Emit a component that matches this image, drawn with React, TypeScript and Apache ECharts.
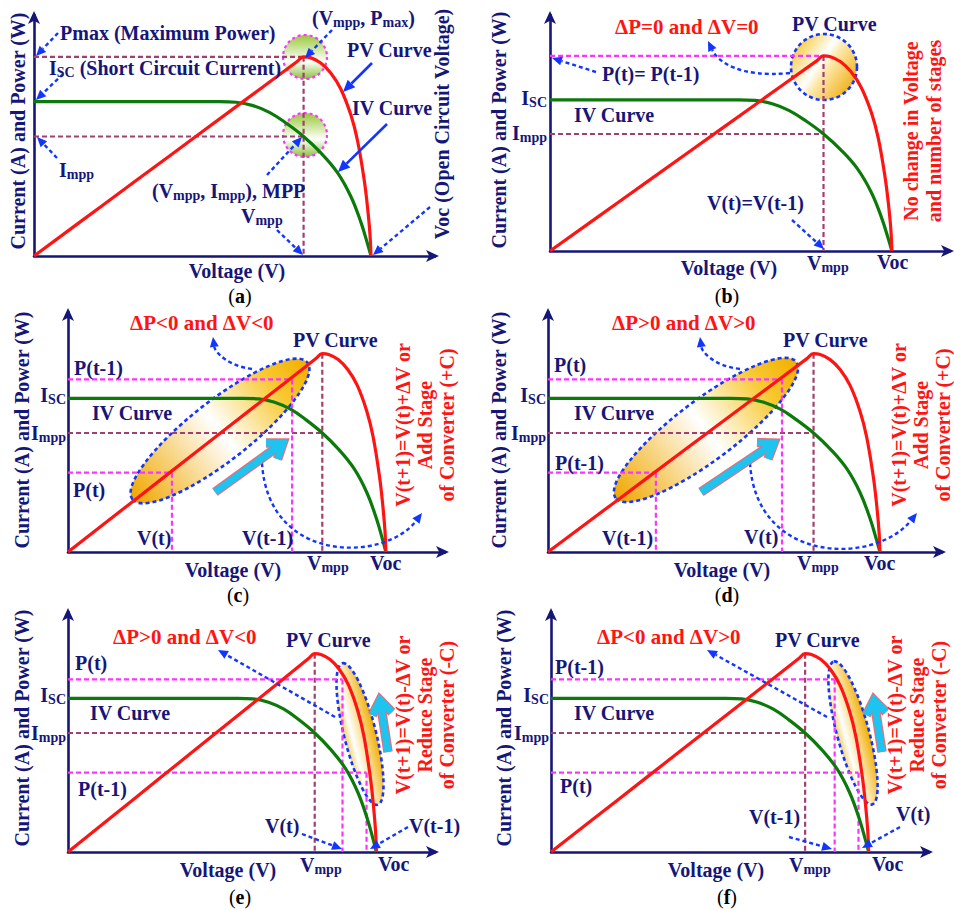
import React, { useEffect, useRef } from "react";
import * as echarts from "echarts";

// ---------------- data (voltage in units of Voc, power / current in % of Pmax) ----------------
const PV_VOLTAGE = [0, 0.2, 0.4, 0.6, 0.78, 0.8, 0.82, 0.85, 0.88, 0.91, 0.94, 0.96, 0.98, 0.99, 0.997, 1];
const PV_POWER = [0, 25, 50, 75, 97.5, 100, 99.6, 97, 92, 84, 71, 58, 38, 24, 11, 0];
const IV_VOLTAGE = [0, 0.3, 0.55, 0.6, 0.65, 0.7, 0.75, 0.8, 0.85, 0.9, 0.94, 0.97, 0.99, 1];
const IV_CURRENT = [77.5, 77.5, 77.5, 77.2, 75.5, 72, 66.5, 60, 52, 42, 30, 17, 6, 0];
const V_MPP = 0.8;
const P_MAX = 100;
const I_MPP = 60;
const PANEL_LABELS = ["a", "b", "c", "d", "e", "f"];
const V_T = [null, null, 0.327, 0.705, 0.89, 0.968];
const P_T = [null, null, 40, 87, 87, 40];
const V_T1 = [null, null, 0.705, 0.325, 0.968, 0.893];
const P_T1 = [null, null, 87, 40, 40, 87];
const X_MAX = [1.19, 1.17, 1.186, 1.187, 1.19, 1.19];
const Y_MAX = 121;

// ---------------- styling ----------------
const FONT = '"Liberation Serif","Times New Roman",serif';
const NAVY = "#161678";
const RED = "#ff1414";
const GREEN = "#0b7a0b";
const BLUE = "#1236ff";
const MAROON = "#a0406e";
const MAGENTA = "#ff33ff";
const PI = Math.PI;

const GRIDS = [
  { left: 34, top: 15, width: 401, height: 241 },
  { left: 550, top: 15, width: 400, height: 236 },
  { left: 68, top: 312, width: 377, height: 240 },
  { left: 548, top: 312, width: 394, height: 240 },
  { left: 68, top: 612, width: 367, height: 240 },
  { left: 551, top: 612, width: 378, height: 240 },
];

function T(x: number, y: number, text: string, o: any = {}) {
  const color = o.color ?? NAVY;
  const size = o.size ?? 20;
  const sub = Math.round(size * 0.7);
  const align = o.align ?? "left";
  return {
    type: "text",
    x,
    y,
    rotation: o.rot ?? 0,
    z: 30,
    silent: true,
    style: {
      text,
      fill: color,
      fontFamily: FONT,
      fontSize: size,
      fontWeight: o.weight ?? "bold",
      align,
      verticalAlign: "middle",
      textAlign: align,
      textVerticalAlign: "middle",
      lineHeight: o.lh ?? Math.round(size * 1.15),
      rich: {
        s: { fontFamily: FONT, fontSize: sub, fontWeight: "bold", fill: color, verticalAlign: "bottom", lineHeight: sub },
        n: { fontFamily: FONT, fontSize: size, fontWeight: "normal", fill: color },
      },
    },
  };
}

function arrow(x1: number, y1: number, x2: number, y2: number, dashed = true, head = 10) {
  const a = Math.atan2(y2 - y1, x2 - x1);
  const hx = x2 - head * Math.cos(a);
  const hy = y2 - head * Math.sin(a);
  const px = Math.sin(a) * head * 0.45;
  const py = -Math.cos(a) * head * 0.45;
  return [
    {
      type: "line",
      z: 25,
      silent: true,
      shape: { x1, y1, x2: hx, y2: hy },
      style: { stroke: BLUE, lineWidth: dashed ? 2.4 : 2.6, lineDash: dashed ? [4, 3] : null },
    },
    {
      type: "polygon",
      z: 25,
      silent: true,
      shape: { points: [[x2, y2], [hx + px, hy + py], [hx - px, hy - py]] },
      style: { fill: BLUE },
    },
  ];
}

function curveArrow(x1: number, y1: number, c1x: number, c1y: number, c2x: number, c2y: number, x2: number, y2: number, head = 10) {
  const a = Math.atan2(y2 - c2y, x2 - c2x);
  const hx = x2 - head * Math.cos(a);
  const hy = y2 - head * Math.sin(a);
  const px = Math.sin(a) * head * 0.45;
  const py = -Math.cos(a) * head * 0.45;
  return [
    {
      type: "bezierCurve",
      z: 25,
      silent: true,
      shape: { x1, y1, cpx1: c1x, cpy1: c1y, cpx2: c2x, cpy2: c2y, x2: hx, y2: hy },
      style: { stroke: BLUE, fill: null, lineWidth: 2.4, lineDash: [4, 3] },
    },
    {
      type: "polygon",
      z: 25,
      silent: true,
      shape: { points: [[x2, y2], [hx + px, hy + py], [hx - px, hy - py]] },
      style: { fill: BLUE },
    },
  ];
}

function fatArrow(x1: number, y1: number, x2: number, y2: number) {
  const a = Math.atan2(y2 - y1, x2 - x1);
  const L = 17;
  const a1 = a + PI - 0.62;
  const a2 = a + PI + 0.62;
  const headPts = [
    [x2 + L * Math.cos(a1), y2 + L * Math.sin(a1)],
    [x2, y2],
    [x2 + L * Math.cos(a2), y2 + L * Math.sin(a2)],
  ];
  const shaftPts = [
    [x1, y1],
    [x2 - 2 * Math.cos(a), y2 - 2 * Math.sin(a)],
  ];
  const mk = (pts: number[][], color: string, w: number, z: number) => ({
    type: "polyline",
    z,
    silent: true,
    shape: { points: pts },
    style: { stroke: color, lineWidth: w, fill: null, lineJoin: "miter", lineCap: "butt" },
  });
  return [
    mk(shaftPts, "#e07080", 9.5, 26),
    mk(headPts, "#e07080", 9.5, 26),
    mk(shaftPts, "#1ec4f0", 7, 27),
    mk(headPts, "#1ec4f0", 7, 27),
  ];
}

function ellipse(cx: number, cy: number, rx: number, ry: number, rotDeg: number, fill: any, stroke = BLUE) {
  return {
    type: "ellipse",
    x: cx,
    y: cy,
    rotation: (rotDeg * PI) / 180,
    z: 1,
    silent: true,
    shape: { cx: 0, cy: 0, rx, ry },
    style: { fill, stroke, lineWidth: 2.6, lineDash: [4, 3] },
  };
}

const goldLong = () =>
  new echarts.graphic.LinearGradient(0, 0, 1, 0, [
    { offset: 0, color: "#f0a800" },
    { offset: 0.5, color: "#ffffff" },
    { offset: 0.82, color: "#f8c830" },
    { offset: 1, color: "#f2b000" },
  ]);
const goldSide = () =>
  new echarts.graphic.LinearGradient(0, 0, 0, 1, [
    { offset: 0, color: "#f0ac00" },
    { offset: 0.45, color: "#fbe09a" },
    { offset: 0.75, color: "#ffffff" },
    { offset: 1, color: "#f8d060" },
  ]);
const goldRound = () =>
  new echarts.graphic.LinearGradient(0, 0.15, 1, 0.85, [
    { offset: 0, color: "#f6c21c" },
    { offset: 0.42, color: "#ffffff" },
    { offset: 0.55, color: "#fde8a8" },
    { offset: 1, color: "#eea600" },
  ]);
const greenRound = () =>
  new echarts.graphic.LinearGradient(0, 0, 0, 1, [
    { offset: 0, color: "#98c83a" },
    { offset: 0.5, color: "#eef7dc" },
    { offset: 0.6, color: "#ffffff" },
    { offset: 1, color: "#8bc23a" },
  ]);

const YTITLE = "Current (A) and Power (W)";
const panelLabel = (x: number, y: number, k: string) =>
  T(x, y, "{n|(}" + k + "{n|)}", { align: "center", color: "#000000" });

function buildGraphics() {
  const g: any[] = [];
  // ---------- (a) ----------
  g.push(
    {
      type: "circle", z: 1, silent: true, shape: { cx: 305, cy: 57, r: 22 },
      style: { fill: greenRound(), stroke: MAGENTA, lineWidth: 2.2, lineDash: [3, 3] },
    },
    {
      type: "circle", z: 1, silent: true, shape: { cx: 305, cy: 135, r: 22 },
      style: { fill: greenRound(), stroke: MAGENTA, lineWidth: 2.2, lineDash: [3, 3] },
    },
    T(18, 131, YTITLE, { rot: PI / 2, align: "center" }),
    T(60, 33, "Pmax (Maximum Power)"),
    T(49, 68, "I{s|SC} (Short Circuit Current)"),
    T(59, 170, "I{s|mpp}"),
    T(312, 18, "(V{s|mpp}, P{s|max})"),
    T(347, 50, "PV Curve"),
    T(352, 108, "IV Curve"),
    T(152, 191, "(V{s|mpp}, I{s|mpp}), MPP"),
    T(241, 216, "V{s|mpp}"),
    T(237, 271, "Voltage (V)", { align: "center" }),
    T(442, 124, "Voc (Open Circuit Voltage)", { rot: PI / 2, align: "center" }),
    panelLabel(240, 296, PANEL_LABELS[0]),
    ...arrow(58, 33, 36, 56),
    ...arrow(63, 74, 36, 100),
    ...arrow(57, 158, 37, 137),
    ...arrow(332, 30, 305, 58),
    ...arrow(372, 63, 343, 92, false, 12),
    ...arrow(387, 124, 338, 172, false, 12),
    ...arrow(267, 175, 302, 137),
    ...arrow(277, 230, 303, 255),
    ...arrow(430, 207, 373, 255)
  );
  // ---------- (b) ----------
  g.push(
    {
      type: "circle", z: 1, silent: true, shape: { cx: 824, cy: 67, r: 33 },
      style: { fill: goldRound(), stroke: BLUE, lineWidth: 2.6, lineDash: [4, 3] },
    },
    T(499, 130, YTITLE, { rot: PI / 2, align: "center" }),
    T(615, 27, "ΔP=0 and ΔV=0", { color: RED, size: 21 }),
    T(792, 24, "PV Curve"),
    T(602, 74, "P(t)= P(t-1)"),
    T(547, 98, "I{s|SC}", { align: "right" }),
    T(574, 115, "IV Curve"),
    T(547, 133, "I{s|mpp}", { align: "right" }),
    T(707, 203, "V(t)=V(t-1)"),
    T(807, 263, "V{s|mpp}"),
    T(877, 262, "Voc"),
    T(729, 268, "Voltage (V)", { align: "center" }),
    T(922, 131, "No change in Voltage\nand number of stages", { rot: PI / 2, align: "center", color: RED, lh: 23 }),
    panelLabel(727, 296, PANEL_LABELS[1]),
    ...arrow(596, 72, 552, 58),
    ...curveArrow(790, 73, 740, 78, 718, 62, 708, 41),
    ...arrow(792, 220, 824, 249)
  );
  // ---------- (c) ----------
  g.push(
    ellipse(220, 431, 111, 30, 38, goldLong()),
    T(22, 430, YTITLE, { rot: PI / 2, align: "center" }),
    T(130, 323, "ΔP<0 and ΔV<0", { color: RED, size: 21 }),
    T(293, 340, "PV Curve"),
    T(74, 368, "P(t-1)"),
    T(66, 395, "I{s|SC}", { align: "right" }),
    T(92, 413, "IV Curve"),
    T(66, 433, "I{s|mpp}", { align: "right" }),
    T(73, 490, "P(t)"),
    T(137, 538, "V(t)"),
    T(242, 538, "V(t-1)"),
    T(233, 570, "Voltage (V)", { align: "center" }),
    T(307, 563, "V{s|mpp}"),
    T(370, 563, "Voc"),
    T(425, 425, "V(t+1)=V(t)+ΔV or\nAdd Stage\nof Converter (+C)", { rot: PI / 2, align: "center", color: RED, lh: 22 }),
    panelLabel(238, 595, PANEL_LABELS[2]),
    ...curveArrow(252, 369, 228, 366, 215, 352, 213, 337),
    ...curveArrow(262, 463, 268, 565, 385, 562, 422, 513),
    ...fatArrow(215, 492, 283, 443)
  );
  // ---------- (d) ----------
  g.push(
    ellipse(706, 430, 113, 30, 37, goldLong()),
    T(499, 430, YTITLE, { rot: PI / 2, align: "center" }),
    T(612, 323, "ΔP>0 and ΔV>0", { color: RED, size: 21 }),
    T(783, 340, "PV Curve"),
    T(554, 365, "P(t)"),
    T(546, 395, "I{s|SC}", { align: "right" }),
    T(574, 413, "IV Curve"),
    T(546, 433, "I{s|mpp}", { align: "right" }),
    T(555, 463, "P(t-1)"),
    T(602, 538, "V(t-1)"),
    T(744, 537, "V(t)"),
    T(797, 563, "V{s|mpp}"),
    T(864, 563, "Voc"),
    T(722, 570, "Voltage (V)", { align: "center" }),
    T(921, 425, "V(t+1)=V(t)+ΔV or\nAdd Stage\nof Converter (+C)", { rot: PI / 2, align: "center", color: RED, lh: 22 }),
    panelLabel(727, 595, PANEL_LABELS[3]),
    ...curveArrow(740, 369, 714, 366, 702, 352, 700, 337),
    ...curveArrow(750, 463, 756, 565, 875, 565, 917, 513),
    ...fatArrow(701, 492, 774, 443)
  );
  // ---------- (e) ----------
  g.push(
    ellipse(360, 734, 73, 16, -76, goldSide()),
    T(22, 728, YTITLE, { rot: PI / 2, align: "center" }),
    T(113, 637, "ΔP>0 and ΔV<0", { color: RED, size: 21 }),
    T(286, 640, "PV Curve"),
    T(75, 663, "P(t)"),
    T(66, 695, "I{s|SC}", { align: "right" }),
    T(90, 713, "IV Curve"),
    T(66, 733, "I{s|mpp}", { align: "right" }),
    T(78, 789, "P(t-1)"),
    T(265, 826, "V(t)"),
    T(409, 826, "V(t-1)"),
    T(300, 865, "V{s|mpp}"),
    T(378, 864, "Voc"),
    T(228, 870, "Voltage (V)", { align: "center" }),
    T(425, 715, "V(t+1)=V(t)-ΔV or\nReduce Stage\nof Converter (-C)", { rot: PI / 2, align: "center", color: RED, lh: 22 }),
    panelLabel(240, 897, PANEL_LABELS[4]),
    ...arrow(335, 717, 218, 650),
    ...arrow(302, 834, 342, 849),
    ...arrow(408, 827, 370, 849),
    ...fatArrow(388, 752, 380, 700)
  );
  // ---------- (f) ----------
  g.push(
    ellipse(853, 733, 74, 16, -75, goldSide()),
    T(504, 728, YTITLE, { rot: PI / 2, align: "center" }),
    T(597, 637, "ΔP<0 and ΔV>0", { color: RED, size: 21 }),
    T(775, 640, "PV Curve"),
    T(555, 667, "P(t-1)"),
    T(549, 695, "I{s|SC}", { align: "right" }),
    T(574, 713, "IV Curve"),
    T(549, 733, "I{s|mpp}", { align: "right" }),
    T(560, 786, "P(t)"),
    T(749, 817, "V(t-1)"),
    T(896, 814, "V(t)"),
    T(789, 865, "V{s|mpp}"),
    T(872, 864, "Voc"),
    T(716, 870, "Voltage (V)", { align: "center" }),
    T(917, 715, "V(t+1)=V(t)-ΔV or\nReduce Stage\nof Converter (-C)", { rot: PI / 2, align: "center", color: RED, lh: 22 }),
    panelLabel(727, 897, PANEL_LABELS[5]),
    ...arrow(827, 717, 707, 650),
    ...arrow(789, 837, 832, 849),
    ...arrow(900, 827, 862, 848),
    ...fatArrow(882, 752, 874, 700)
  );
  return g;
}

function buildOption() {
  const pv = PV_VOLTAGE.map((v, k) => [v, PV_POWER[k]]);
  const iv = IV_VOLTAGE.map((v, k) => [v, IV_CURRENT[k]]);
  const series: any[] = [];
  const seg = (i: number, pts: number[][], color: string) =>
    series.push({
      type: "line",
      xAxisIndex: i,
      yAxisIndex: i,
      data: pts,
      symbol: "none",
      silent: true,
      z: 3,
      lineStyle: { color, width: 2.2, type: [5, 3] },
    });
  GRIDS.forEach((_, i) => {
    series.push({
      type: "line", xAxisIndex: i, yAxisIndex: i, data: pv, symbol: "none", smooth: 0.4, silent: true, z: 6,
      lineStyle: { color: RED, width: 3.2 },
    });
    series.push({
      type: "line", xAxisIndex: i, yAxisIndex: i, data: iv, symbol: "none", smooth: 0.4, silent: true, z: 5,
      lineStyle: { color: GREEN, width: 3.2 },
    });
    if (i === 0) seg(i, [[0, P_MAX], [V_MPP, P_MAX]], MAROON);
    if (i === 1) seg(i, [[0, P_MAX], [V_MPP, P_MAX]], MAGENTA);
    seg(i, [[0, I_MPP], [V_MPP, I_MPP]], MAROON);
    seg(i, [[V_MPP, P_MAX], [V_MPP, 0]], MAROON);
    if (i >= 2) {
      const vt = V_T[i] as number, pt = P_T[i] as number;
      const vt1 = V_T1[i] as number, pt1 = P_T1[i] as number;
      seg(i, [[0, pt], [vt, pt]], MAGENTA);
      seg(i, [[vt, pt], [vt, 0]], MAGENTA);
      seg(i, [[0, pt1], [vt1, pt1]], MAGENTA);
      seg(i, [[vt1, pt1], [vt1, 0]], MAGENTA);
    }
  });
  const axisCommon = {
    type: "value",
    min: 0,
    axisTick: { show: false },
    axisLabel: { show: false },
    splitLine: { show: false },
    axisLine: {
      show: true,
      onZero: false,
      symbol: ["none", "arrow"],
      symbolSize: [9, 13],
      symbolOffset: [0, 4],
      lineStyle: { color: NAVY, width: 2.6 },
    },
  };
  return {
    animation: false,
    backgroundColor: "#ffffff",
    grid: GRIDS.map((g) => ({ ...g, containLabel: false })),
    xAxis: GRIDS.map((_, i) => ({ ...axisCommon, gridIndex: i, max: X_MAX[i] })),
    yAxis: GRIDS.map((_, i) => ({ ...axisCommon, gridIndex: i, max: Y_MAX })),
    series,
    graphic: { elements: buildGraphics() },
  };
}

export default function App() {
  const ref = useRef<HTMLDivElement>(null);
  useEffect(() => {
    if (!ref.current) return;
    const chart = echarts.init(ref.current, null, { renderer: "svg" });
    chart.setOption(buildOption() as any);
    return () => chart.dispose();
  }, []);
  return (
    <div
      ref={ref}
      style={{ position: "absolute", left: 0, top: 0, width: 954, height: 910, background: "#fff" }}
    />
  );
}
